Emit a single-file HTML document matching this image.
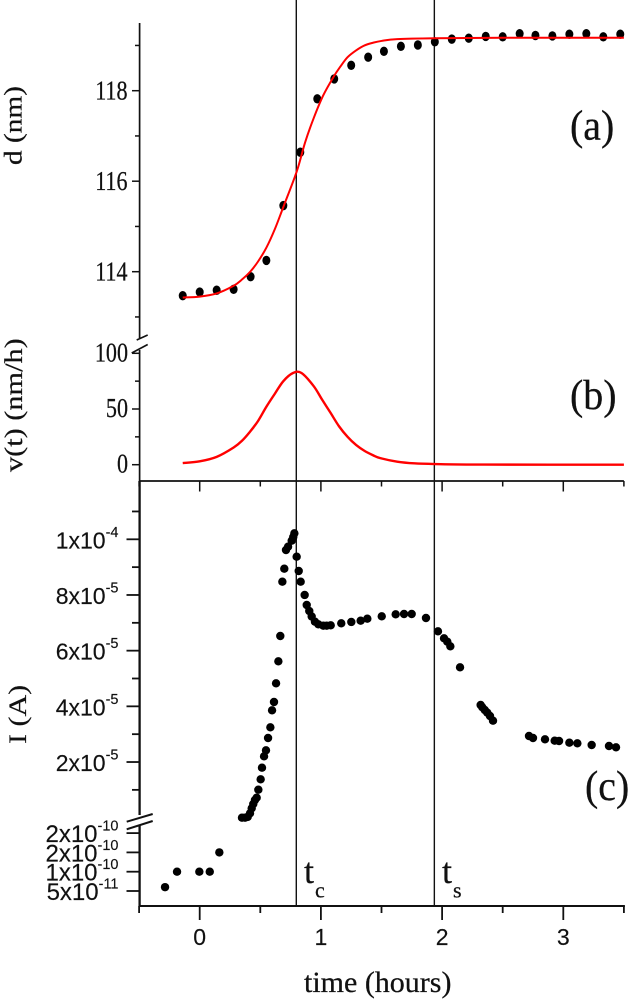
<!DOCTYPE html>
<html lang="en">
<head>
<meta charset="utf-8">
<title>Thickness, growth rate and current versus time</title>
<style>
html,body{margin:0;padding:0;background:#fff;}
body{width:628px;height:1000px;overflow:hidden;}
svg{display:block;}
.serif{font-family:"Liberation Serif",serif;fill:#111;stroke:#111;stroke-width:.25px;}
.sans{font-family:"Liberation Sans",sans-serif;fill:#111;stroke:#111;stroke-width:.15px;}
</style>
</head>
<body>
<svg id="chart" width="628" height="1000" viewBox="0 0 628 1000" xmlns="http://www.w3.org/2000/svg">
  <rect x="0" y="0" width="628" height="1000" fill="#fff"/>
  <g id="axes"></g>
  <g id="marks"></g>
  <g id="labels"></g>

  <text class="serif" font-size="29.3" transform="translate(21.5,165) rotate(-90) scale(1,.85)">d (nm)</text>
  <text class="serif" font-size="30.3" transform="translate(22,472) rotate(-90) scale(1,.85)">v(t) (nm/h)</text>
  <text class="serif" font-size="30" transform="translate(26,744) rotate(-90) scale(1,.85)">I (A)</text>
  <text class="serif" font-size="30" transform="translate(304,992)">time (hours)</text>

  <text class="serif" font-size="42" transform="translate(570,139.5) scale(.95,1)">(a)</text>
  <text class="serif" font-size="42" transform="translate(570,409) scale(.95,1)">(b)</text>
  <text class="serif" font-size="42" transform="translate(585,800) scale(.95,1)">(c)</text>

  <text class="serif" font-size="36" x="304" y="883">t</text>
  <text class="serif" font-size="22" x="315" y="897.5">c</text>
  <text class="serif" font-size="36" x="442" y="883">t</text>
  <text class="serif" font-size="22" x="453" y="897.5">s</text>
</svg>

<script>
// ---- data ----
var markerTimes = [0.797, 1.936];

var xMajorTicks = [0, 1, 2, 3];
var xMinorTicks = [-0.5, 0.5, 1.5, 2.5, 3.5];

var dMajorTicks = [114, 116, 118];
var dMinorTicks = [113, 115, 117, 119];
var vMajorTicks = [0, 50, 100];
var vMinorTicks = [25, 75];
var iMajorTicks = [2, 4, 6, 8, 10];
var iMinorTicks = [1, 3, 5, 7, 9, 11];
var iMajorMantissas = ['2x10', '4x10', '6x10', '8x10', '1x10'];
var iMajorExponents = ['-5', '-5', '-5', '-5', '-4'];
var lowTicks = [5, 10, 15, 20];
var lowMantissas = ['5x10', '1x10', '2x10', '2x10'];
var lowExponents = ['-11', '-10', '-10', '-10'];

var dDotTimes = [-0.14, 0.00, 0.14, 0.28, 0.42, 0.55, 0.69, 0.83, 0.97, 1.11, 1.25, 1.39, 1.52, 1.66, 1.80, 1.94, 2.08, 2.22, 2.36, 2.50, 2.64, 2.77, 2.91, 3.05, 3.19, 3.33, 3.47];
var dDotValues = [113.47, 113.55, 113.59, 113.61, 113.89, 114.25, 115.46, 116.64, 117.82, 118.26, 118.56, 118.74, 118.87, 118.98, 119.01, 119.08, 119.14, 119.16, 119.20, 119.19, 119.26, 119.22, 119.21, 119.25, 119.26, 119.19, 119.25];

var dFitTimes = [-0.14, 0.00, 0.14, 0.28, 0.35, 0.42, 0.48, 0.55, 0.62, 0.69, 0.80, 0.87, 0.94, 1.02, 1.11, 1.16, 1.22, 1.29, 1.36, 1.43, 1.50, 1.63, 1.94, 2.50, 3.50];
var dFitValues = [113.43, 113.45, 113.52, 113.69, 113.83, 114.01, 114.22, 114.53, 114.94, 115.43, 116.21, 116.86, 117.39, 117.90, 118.33, 118.53, 118.74, 118.89, 119.00, 119.06, 119.10, 119.14, 119.16, 119.17, 119.17];

var vTimes = [-0.14, 0.00, 0.14, 0.28, 0.35, 0.415, 0.48, 0.55, 0.62, 0.69, 0.77, 0.84, 0.94, 1.01, 1.08, 1.15, 1.22, 1.29, 1.36, 1.43, 1.49, 1.63, 1.77, 1.94, 2.35, 3.50];
var vValues = [1.5, 3.0, 7.0, 15.4, 21.6, 29.6, 39, 52, 63.7, 75, 82.3, 82.3, 70.6, 58.4, 46.5, 34.4, 25, 17.7, 12.4, 8.5, 5.9, 2.7, 1.2, 0.6, 0.1, 0];

var lowTimes = [-0.286, -0.187, -0.003, 0.083, 0.162];
var lowValues = [6, 10, 10, 10, 15];

var iTimes = [0.349, 0.374, 0.396, 0.415, 0.429, 0.442, 0.456, 0.470, 0.484, 0.503, 0.514, 0.531, 0.547, 0.564, 0.583, 0.597, 0.613, 0.630, 0.649, 0.665, 0.682, 0.698, 0.712, 0.729, 0.759, 0.772, 0.781, 0.800, 0.817, 0.833, 0.866, 0.883, 0.904, 0.924, 0.951, 0.979, 1.020, 1.048, 1.081, 1.168, 1.251, 1.328, 1.383, 1.502, 1.617, 1.686, 1.749, 1.867, 1.966, 2.016, 2.043, 2.068, 2.148, 2.318, 2.332, 2.352, 2.373, 2.395, 2.420, 2.717, 2.750, 2.849, 2.929, 2.965, 3.050, 3.116, 3.234, 3.377, 3.435];
var iValues = [0, 0, 0.03, 0.158, 0.338, 0.492, 0.636, 0.718, 1.006, 1.379, 1.796, 2.205, 2.421, 2.863, 3.247, 3.858, 4.156, 4.828, 5.618, 6.527, 8.477, 8.944, 9.616, 9.734, 9.95, 10.083, 10.216, 9.375, 8.861, 8.477, 8.0, 7.64, 7.424, 7.227, 7.04, 6.947, 6.897, 6.897, 6.911, 6.983, 7.03, 7.076, 7.148, 7.234, 7.306, 7.317, 7.317, 7.173, 6.695, 6.444, 6.322, 6.157, 5.402, 4.048, 3.966, 3.869, 3.772, 3.653, 3.484, 2.935, 2.863, 2.816, 2.766, 2.755, 2.694, 2.672, 2.611, 2.575, 2.529];

// ---- axis functions ----
function xScale(t) { return 199.7 + t * 121.2; }
function yD(d) { return 90.7 + (118 - d) * 45.25; }
function yV(v) { return 464.7 - v * 1.114; }
function yI(i) { return 817.7 - i * 27.84; }
function yLow(v) { return 891 - (v - 5) / 5 * 19.3; }

var NS = 'http://www.w3.org/2000/svg';
var axesG = document.getElementById('axes');
var marksG = document.getElementById('marks');
var labelsG = document.getElementById('labels');

function line(parent, x1, y1, x2, y2, w) {
  var el = document.createElementNS(NS, 'line');
  el.setAttribute('x1', x1);
  el.setAttribute('y1', y1);
  el.setAttribute('x2', x2);
  el.setAttribute('y2', y2);
  el.setAttribute('stroke', '#111');
  el.setAttribute('stroke-width', w);
  parent.appendChild(el);
  return el;
}
function label(cls, size, transform, anchor, str) {
  var el = document.createElementNS(NS, 'text');
  el.setAttribute('class', cls);
  el.setAttribute('font-size', size);
  el.setAttribute('transform', transform);
  el.setAttribute('text-anchor', anchor);
  el.textContent = str;
  labelsG.appendChild(el);
  return el;
}
function smoothPath(xs, ys) {
  var d = 'M' + xs[0].toFixed(2) + ' ' + ys[0].toFixed(2);
  for (var i = 0; i < xs.length - 1; i++) {
    var a = Math.max(i - 1, 0), b = i + 1, c = Math.min(i + 2, xs.length - 1);
    var c1x = xs[i] + (xs[b] - xs[a]) / 6, c1y = ys[i] + (ys[b] - ys[a]) / 6;
    var c2x = xs[b] - (xs[c] - xs[i]) / 6, c2y = ys[b] - (ys[c] - ys[i]) / 6;
    d += 'C' + c1x.toFixed(2) + ' ' + c1y.toFixed(2) + ' ' + c2x.toFixed(2) + ' ' + c2y.toFixed(2) + ' ' + xs[b].toFixed(2) + ' ' + ys[b].toFixed(2);
  }
  return d;
}
function exponentLabel(mantissa, exponent, y, size) {
  var el = document.createElementNS(NS, 'text');
  el.setAttribute('class', 'sans');
  el.setAttribute('font-size', size);
  el.setAttribute('x', 118.5);
  el.setAttribute('y', y);
  el.setAttribute('text-anchor', 'end');
  el.appendChild(document.createTextNode(mantissa));
  var sup = document.createElementNS(NS, 'tspan');
  sup.setAttribute('font-size', 14.5);
  sup.setAttribute('dy', -11.5);
  sup.textContent = exponent;
  el.appendChild(sup);
  labelsG.appendChild(el);
  return el;
}

// ---- axis lines ----
var axX = 139.6, el, i;
el = line(axesG, axX, 23, axX, 338, 1.7);


el = line(axesG, axX, 350, axX, 481, 1.7);


el = line(axesG, axX, 481, axX, 815, 2.3);


el = line(axesG, axX, 825, axX, 907, 2.3);


el = line(axesG, axX, 481, xScale(3.5), 481, 1.7);


el = line(axesG, axX - 1, 906, xScale(3.5) + 1, 906, 2.1);



// ---- axis breaks ----
el = line(axesG, 136.7, 340, 147.7, 335, 1.6);


el = line(axesG, 131.7, 353, 147.7, 344.5, 1.6);


el = line(axesG, 126.7, 821.7, 152.7, 814, 2);


el = line(axesG, 126.7, 829.3, 152.7, 821, 2);



// ---- x ticks and labels ----
xMajorTicks.forEach(function (t) {
  var a = line(axesG, xScale(t), 481, xScale(t), 491.5, 1.5);
  
  
  var b = line(axesG, xScale(t), 906, xScale(t), 920, 1.8);
  
  
  var c = label('sans', 23, 'translate(' + xScale(t) + ',945)', 'middle', String(t));
  
  
});
xMinorTicks.forEach(function (t) {
  var a = line(axesG, xScale(t), 481, xScale(t), 486.5, 1.5);
  
  
  var b = line(axesG, xScale(t), 906, xScale(t), 913, 1.8);
  
  
});

// ---- thickness y ticks ----
dMajorTicks.forEach(function (d) {
  var a = line(axesG, 132, yD(d), axX, yD(d), 1.5);
  
  
  var b = label('serif', 27.6, 'translate(127.5,' + (yD(d) + 8.6) + ') scale(.8,1)', 'end', String(d));
  
  
});
dMinorTicks.forEach(function (d) {
  var a = line(axesG, 135, yD(d), axX, yD(d), 1.5);
  
  
});

// ---- velocity y ticks ----
vMajorTicks.forEach(function (v) {
  var a = line(axesG, 132, yV(v), axX, yV(v), 1.5);
  
  
  var b = label('serif', 27.6, 'translate(128,' + (yV(v) + 8) + ') scale(.8,1)', 'end', String(v));
  
  
});
vMinorTicks.forEach(function (v) {
  var a = line(axesG, 135, yV(v), axX, yV(v), 1.5);
  
  
});

// ---- current y ticks ----
iMajorTicks.forEach(function (v, k) {
  var a = line(axesG, 126.5, yI(v), axX, yI(v), 1.8);
  
  
  var b = exponentLabel(iMajorMantissas[k], iMajorExponents[k], yI(v) + 9, 23);
  
  
});
iMinorTicks.forEach(function (v) {
  var a = line(axesG, 132, yI(v), axX, yI(v), 1.8);
  
  
});
lowTicks.forEach(function (v, k) {
  var a = line(axesG, 126.5, yLow(v), axX, yLow(v), 1.8);
  
  
  var b = exponentLabel(lowMantissas[k], lowExponents[k], yLow(v) + 9, 24);
  
  
});

// ---- vertical markers ----
markerTimes.forEach(function (t) {
  var a = line(marksG, xScale(t), 0, xScale(t), 906, 1.4);
  
  
});

// ---- thickness dots and fit ----
dDotTimes.forEach(function (t, k) {
  var dot = document.createElementNS(NS, 'ellipse');
  dot.setAttribute('cx', xScale(t));
  dot.setAttribute('cy', yD(dDotValues[k]));
  dot.setAttribute('rx', 4);
  dot.setAttribute('ry', 4.7);
  dot.setAttribute('fill', '#000');
  
  
  marksG.appendChild(dot);
});
var fitPath = document.createElementNS(NS, 'path');
fitPath.setAttribute('d', smoothPath(dFitTimes.map(xScale), dFitValues.map(yD)));
fitPath.setAttribute('fill', 'none');
fitPath.setAttribute('stroke', '#f00');
fitPath.setAttribute('stroke-width', 2);


marksG.appendChild(fitPath);

// ---- velocity curve ----
var vPath = document.createElementNS(NS, 'path');
vPath.setAttribute('d', smoothPath(vTimes.map(xScale), vValues.map(yV)));
vPath.setAttribute('fill', 'none');
vPath.setAttribute('stroke', '#f00');
vPath.setAttribute('stroke-width', 2.4);


marksG.appendChild(vPath);

// ---- current dots ----
iTimes.forEach(function (t, k) {
  var dot = document.createElementNS(NS, 'circle');
  dot.setAttribute('cx', xScale(t));
  dot.setAttribute('cy', yI(iValues[k]));
  dot.setAttribute('r', 4.2);
  dot.setAttribute('fill', '#000');
  
  
  marksG.appendChild(dot);
});
lowTimes.forEach(function (t, k) {
  var dot = document.createElementNS(NS, 'circle');
  dot.setAttribute('cx', xScale(t));
  dot.setAttribute('cy', yLow(lowValues[k]));
  dot.setAttribute('r', 4.2);
  dot.setAttribute('fill', '#000');
  
  
  marksG.appendChild(dot);
});
</script>
</body>
</html>
